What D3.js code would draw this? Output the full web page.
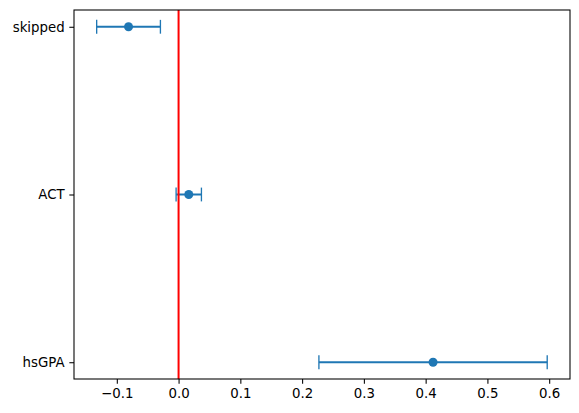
<!DOCTYPE html>
<html><head><meta charset="utf-8">
<script src="https://cdn.jsdelivr.net/npm/d3@7"></script>
<style>body{margin:0;background:#fff}svg{display:block}</style>
</head><body>
<script>
const categories = ["hsGPA", "ACT", "skipped"];
const estimates = [0.412, 0.0165, -0.081];
const errors = [0.1848, 0.0205, 0.0516];
const xTicks = [-0.1, 0.0, 0.1, 0.2, 0.3, 0.4, 0.5, 0.6];

const W = 579, H = 413;
const m = {left: 74, right: 9, top: 10, bottom: 34};
const svg = d3.select("body").append("svg").attr("width", W).attr("height", H);

const x = d3.scaleLinear().domain([-0.1693, 0.6337]).range([m.left, W - m.right]);
const y = d3.scaleLinear().domain([-0.1, categories.length - 1 + 0.1]).range([H - m.bottom, m.top]);

const font = "DejaVu Sans, sans-serif";
const g = svg.append("g");

// axes
const xAxis = d3.axisBottom(x).tickValues(xTicks).tickSize(4.67).tickPadding(4.7)
  .tickFormat(d => d3.format(".1f")(d).replace("-", "\u2212"));
const ax = g.append("g").attr("transform", `translate(0,${H - m.bottom})`).call(xAxis);
const yAxis = d3.axisLeft(y).tickValues(d3.range(categories.length)).tickSize(4.67).tickPadding(4.7)
  .tickFormat(i => categories[i]);
const ay = g.append("g").attr("transform", `translate(${m.left},0)`).call(yAxis);
[ax, ay].forEach(a => {
  a.select(".domain").remove();
  a.selectAll("line").attr("stroke", "#000").attr("stroke-width", 1.07);
  a.selectAll("text").attr("font-family", font).attr("font-size", 13.33).attr("fill", "#000");
});

// error bars
const color = "#1f77b4";
const eb = g.append("g");
categories.forEach((c, i) => {
  const yy = y(i);
  const lo = x(estimates[i] - errors[i]), hi = x(estimates[i] + errors[i]);
  eb.append("line").attr("x1", lo).attr("x2", hi).attr("y1", yy).attr("y2", yy)
    .attr("stroke", color).attr("stroke-width", 2);
  [lo, hi].forEach(px => eb.append("line").attr("x1", px).attr("x2", px)
    .attr("y1", yy - 6.9).attr("y2", yy + 6.9).attr("stroke", color).attr("stroke-width", 1.33));
  eb.append("circle").attr("cx", x(estimates[i])).attr("cy", yy).attr("r", 4.5).attr("fill", color);
});

// vertical red line at 0
g.append("line").attr("x1", x(0)).attr("x2", x(0)).attr("y1", m.top).attr("y2", H - m.bottom)
  .attr("stroke", "#ff0000").attr("stroke-width", 2);

// frame
g.append("rect").attr("x", m.left).attr("y", m.top)
  .attr("width", W - m.right - m.left).attr("height", H - m.bottom - m.top)
  .attr("fill", "none").attr("stroke", "#000").attr("stroke-width", 1.07);
</script>
</body></html>
